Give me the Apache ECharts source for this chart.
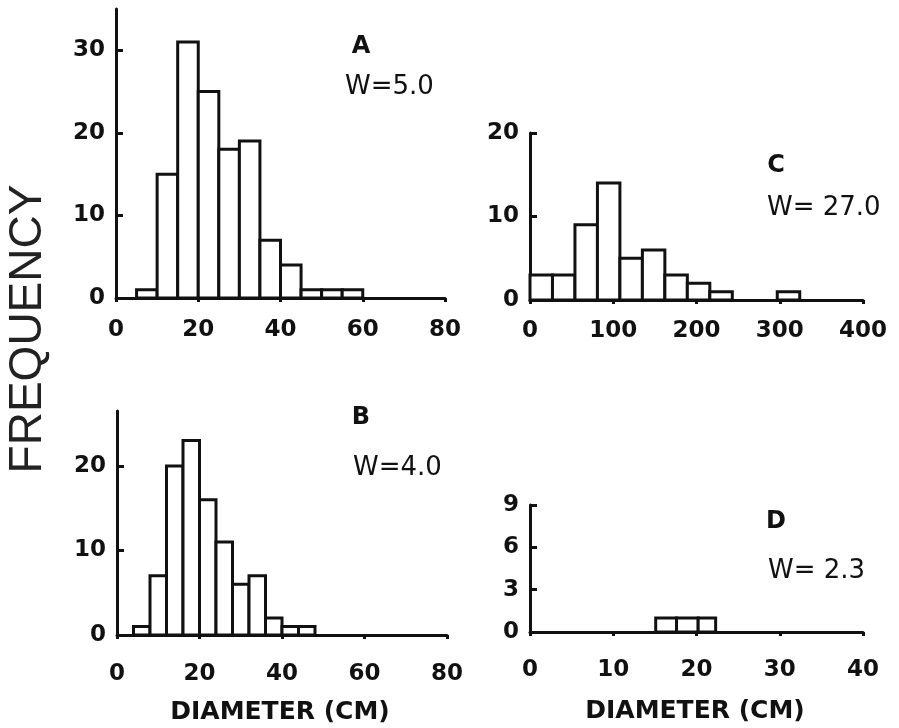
<!DOCTYPE html>
<html>
<head>
<meta charset="utf-8">
<script src="https://cdn.jsdelivr.net/npm/echarts@6/dist/echarts.min.js"></script>
<style>
html,body{margin:0;padding:0;background:#fff;}
#chart{width:899px;height:728px;}
</style>
</head>
<body>
<div id="chart"></div>
<script>
// ---- Data ----
// Panel A: bin width 5 cm, first bin starts at 5 cm
const binStartA = 5;
const binWidthA = 5;
const countsA = [1, 15, 31, 25, 18, 19, 7, 4, 1, 1, 1];

// Panel B: bin width 4 cm, first bin starts at 4 cm
const binStartB = 4;
const binWidthB = 4;
const countsB = [1, 7, 20, 23, 16, 11, 6, 7, 2, 1, 1];

// Panel C: bin width 27 cm, first bin starts at 0 cm
const binStartC = 0;
const binWidthC = 27;
const countsC = [3, 3, 9, 14, 5, 6, 3, 2, 1, 0, 0, 1];

// Panel D: bin edges and counts
const binEdgesD = [15.1, 17.6, 20.2, 22.3];
const countsD = [1, 1, 1];

// Tick labels
const xTicksAB = [0, 20, 40, 60, 80];
const xTicksC = [0, 100, 200, 300, 400];
const xTicksD = [0, 10, 20, 30, 40];
const yTicksA = [0, 10, 20, 30];
const yTicksB = [0, 10, 20];
const yTicksC = [0, 10, 20];
const yTicksD = [0, 3, 6, 9];

// Panel annotations
const panelLetters = ['A', 'B', 'C', 'D'];
const panelWidths = ['W=5.0', 'W=4.0', 'W= 27.0', 'W= 2.3'];
const xTitle = 'DIAMETER (CM)';
const yTitle = 'FREQUENCY';

// ---- Build bins ----
function binsFromStart(start, width, counts) {
  const out = [];
  counts.forEach((c, i) => {
    if (c > 0) out.push([start + i * width, start + (i + 1) * width, c]);
  });
  return out;
}
function binsFromEdges(edges, counts) {
  const out = [];
  counts.forEach((c, i) => { if (c > 0) out.push([edges[i], edges[i + 1], c]); });
  return out;
}

const INK = '#111';
const tickFont = { color: INK, fontFamily: 'DejaVu Sans', fontWeight: 'bold', fontSize: 23 };

function renderBin(params, api) {
  const p0 = api.coord([api.value(0), api.value(2)]);
  const p1 = api.coord([api.value(1), 0]);
  return {
    type: 'rect',
    shape: { x: p0[0], y: p0[1], width: p1[0] - p0[0], height: p1[1] - p0[1] },
    style: { fill: '#fff', stroke: INK, lineWidth: 3 }
  };
}

function xAxisFor(gi, max, ticks, margin) {
  return {
    type: 'value', gridIndex: gi, min: 0, max: max,
    axisLine: { show: true, onZero: false, lineStyle: { color: INK, width: 3 } },
    axisTick: { show: true, inside: false, length: 4, customValues: ticks, lineStyle: { color: INK, width: 3 } },
    axisLabel: Object.assign({ customValues: ticks, margin: margin }, tickFont),
    splitLine: { show: false }
  };
}
function yAxisFor(gi, max, ticks) {
  return {
    type: 'value', gridIndex: gi, min: 0, max: max, position: 'left',
    axisLine: { show: true, onZero: false, lineStyle: { color: INK, width: 3 } },
    axisTick: { show: true, inside: false, length: -7, customValues: ticks, lineStyle: { color: INK, width: 3 } },
    axisLabel: Object.assign({ customValues: ticks, margin: 11 }, tickFont),
    splitLine: { show: false }
  };
}

const grids = [
  { left: 116, top: 9, width: 329, height: 289 },   // A
  { left: 117, top: 411, width: 330, height: 224 }, // B
  { left: 530, top: 133, width: 333, height: 167 }, // C
  { left: 530, top: 505, width: 333, height: 127 }  // D
];

const letterPos = [[361, 47], [361, 418], [776, 166], [776, 522]];
const widthPos = [[345, 87], [353, 468], [767, 208], [768, 571]];

const graphics = [];
graphics.push({
  type: 'text', x: 28, y: 329, rotation: Math.PI / 2,
  style: { text: yTitle, fill: '#222', font: 'normal 46px "Liberation Sans"', align: 'center', verticalAlign: 'middle' }
});
panelLetters.forEach((t, i) => {
  graphics.push({
    type: 'text', x: letterPos[i][0], y: letterPos[i][1],
    style: { text: t, fill: INK, font: 'bold 24px "DejaVu Sans"', align: 'center', verticalAlign: 'middle' }
  });
});
panelWidths.forEach((t, i) => {
  graphics.push({
    type: 'text', x: widthPos[i][0], y: widthPos[i][1],
    style: { text: t, fill: INK, font: 'normal 26px "DejaVu Sans"', align: 'left', verticalAlign: 'middle' }
  });
});
[[280, 712], [695, 711]].forEach(p => {
  graphics.push({
    type: 'text', x: p[0], y: p[1],
    style: { text: xTitle, fill: INK, font: 'bold 25px "DejaVu Sans"', align: 'center', verticalAlign: 'middle' }
  });
});

const option = {
  backgroundColor: '#fff',
  animation: false,
  grid: grids,
  xAxis: [
    xAxisFor(0, 80, xTicksAB, 21),
    xAxisFor(1, 80, xTicksAB, 28),
    xAxisFor(2, 400, xTicksC, 20),
    xAxisFor(3, 40, xTicksD, 27)
  ],
  yAxis: [
    yAxisFor(0, 35, yTicksA),
    yAxisFor(1, 26.5, yTicksB),
    yAxisFor(2, 20, yTicksC),
    yAxisFor(3, 9, yTicksD)
  ],
  series: [
    { type: 'custom', xAxisIndex: 0, yAxisIndex: 0, renderItem: renderBin, data: binsFromStart(binStartA, binWidthA, countsA), encode: { x: [0, 1], y: 2 } },
    { type: 'custom', xAxisIndex: 1, yAxisIndex: 1, renderItem: renderBin, data: binsFromStart(binStartB, binWidthB, countsB), encode: { x: [0, 1], y: 2 } },
    { type: 'custom', xAxisIndex: 2, yAxisIndex: 2, renderItem: renderBin, data: binsFromStart(binStartC, binWidthC, countsC), encode: { x: [0, 1], y: 2 } },
    { type: 'custom', xAxisIndex: 3, yAxisIndex: 3, renderItem: renderBin, data: binsFromEdges(binEdgesD, countsD), encode: { x: [0, 1], y: 2 } }
  ],
  graphic: graphics
};

const chart = echarts.init(document.getElementById('chart'), null, { renderer: 'canvas' });
chart.setOption(option);
</script>
</body>
</html>
